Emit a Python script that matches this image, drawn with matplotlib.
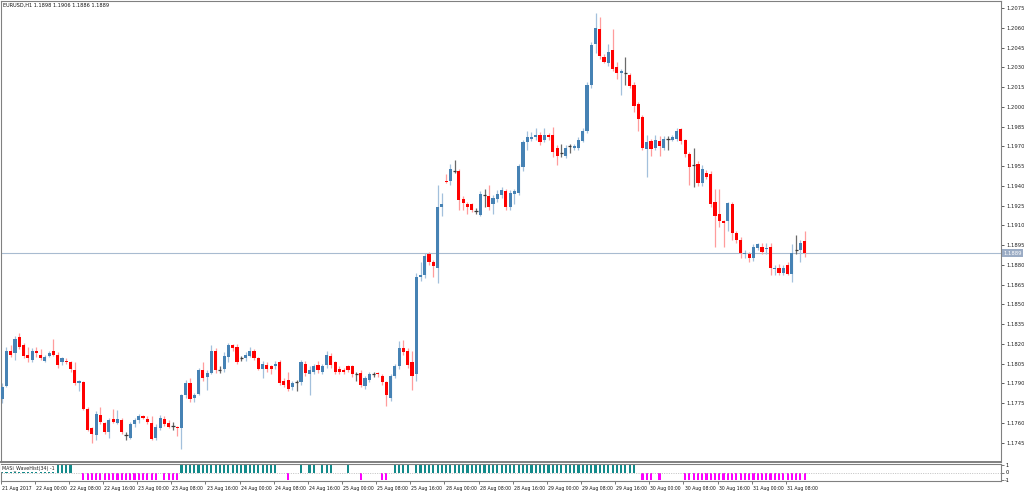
import numpy as np
import matplotlib
matplotlib.use('Agg')
import matplotlib.pyplot as plt
import matplotlib.transforms as mtransforms

header_text = "EURUSD,H1 1.1898 1.1906 1.1886 1.1889"
indicator_name = "MASi_WaveHist(34) -1"
current_price = 1.1889

opens = [
    1.1778, 1.1788, 1.1815, 1.1813, 1.1825, 1.1819, 1.1812, 1.1808, 1.1815, 1.1812,
    1.1807, 1.1811, 1.1815, 1.1812, 1.1806, 1.1807, 1.1806, 1.1800, 1.1790, 1.1791,
    1.1771, 1.1756, 1.1751, 1.1766, 1.1760, 1.1753, 1.1763, 1.1760, 1.1762, 1.1751,
    1.1749, 1.1759, 1.1762, 1.1765, 1.1763, 1.1760, 1.1749, 1.1756, 1.1763, 1.1760,
    1.1758, 1.1757, 1.1756, 1.1781, 1.1790, 1.1779, 1.1782, 1.1800, 1.1795, 1.1798,
    1.1815, 1.1800, 1.1801, 1.1810, 1.1819, 1.1818, 1.1809, 1.1809, 1.1811, 1.1815,
    1.1809, 1.1801, 1.1804, 1.1803, 1.1803, 1.1806, 1.1792, 1.1793, 1.1787, 1.1791,
    1.1791, 1.1805, 1.1797, 1.1799, 1.1804, 1.1799, 1.1804, 1.1811, 1.1806, 1.1801,
    1.1800, 1.1803, 1.1803, 1.1797, 1.1798, 1.1788, 1.1793, 1.1797, 1.1798, 1.1796,
    1.1791, 1.1779, 1.1796, 1.1803, 1.1817, 1.1815, 1.1806, 1.1797, 1.1871, 1.1872,
    1.1888, 1.1882, 1.1878, 1.1924, 1.1944, 1.1944, 1.1951, 1.1951, 1.1930, 1.1926,
    1.1926, 1.1921, 1.1918, 1.1933, 1.1932, 1.1926, 1.1930, 1.1933, 1.1936, 1.1924,
    1.1934, 1.1935, 1.1954, 1.1973, 1.1976, 1.1977, 1.1979, 1.1975, 1.1979, 1.1979,
    1.1969, 1.1965, 1.1963, 1.1970, 1.1969, 1.1969, 1.1974, 1.1982, 1.2017, 1.2048,
    1.2059, 1.2038, 1.2033, 1.2043, 1.2030, 1.2026, 1.2026, 1.2024, 1.2017, 1.2002,
    1.1992, 1.1968, 1.1974, 1.1969, 1.1974, 1.1969, 1.1976, 1.1975, 1.1976, 1.1983,
    1.1975, 1.1964, 1.1956, 1.1957, 1.1942, 1.1950, 1.1949, 1.1928, 1.1919, 1.1913,
    1.1913, 1.1926, 1.1904, 1.1899, 1.1888, 1.1888, 1.1885, 1.1893, 1.1894, 1.1892,
    1.1894, 1.1877, 1.1878, 1.1874, 1.1880, 1.1873, 1.1891, 1.1891, 1.1898,
]
closes = [
    1.1787, 1.1815, 1.1812, 1.1824, 1.1818, 1.1811, 1.1809, 1.1815, 1.1813, 1.1809,
    1.1810, 1.1813, 1.1812, 1.1804, 1.1809, 1.1806, 1.1801, 1.1790, 1.1792, 1.1771,
    1.1755, 1.1752, 1.1767, 1.1761, 1.1753, 1.1762, 1.1761, 1.1763, 1.1753, 1.1751,
    1.1759, 1.1762, 1.1765, 1.1764, 1.1761, 1.1748, 1.1757, 1.1764, 1.1759, 1.1757,
    1.1758, 1.1756, 1.1781, 1.1790, 1.1778, 1.1781, 1.1800, 1.1794, 1.1798, 1.1815,
    1.1800, 1.1800, 1.1811, 1.1819, 1.1817, 1.1806, 1.1809, 1.1812, 1.1815, 1.1809,
    1.1801, 1.1805, 1.1801, 1.1801, 1.1805, 1.1790, 1.1789, 1.1786, 1.1790, 1.1791,
    1.1806, 1.1798, 1.1800, 1.1803, 1.1800, 1.1803, 1.1812, 1.1804, 1.1799, 1.1799,
    1.1799, 1.1800, 1.1797, 1.1797, 1.1789, 1.1794, 1.1797, 1.1797, 1.1797, 1.1791,
    1.1781, 1.1796, 1.1803, 1.1817, 1.1814, 1.1804, 1.1796, 1.1871, 1.1872, 1.1887,
    1.1882, 1.1879, 1.1924, 1.1926, 1.1943, 1.1953, 1.1951, 1.1929, 1.1927, 1.1924,
    1.1922, 1.1921, 1.1934, 1.1933, 1.1924, 1.1931, 1.1934, 1.1937, 1.1924, 1.1935,
    1.1936, 1.1955, 1.1973, 1.1977, 1.1977, 1.1979, 1.1973, 1.1979, 1.1977, 1.1966,
    1.1963, 1.1965, 1.1969, 1.1970, 1.1970, 1.1975, 1.1982, 1.2017, 1.2047, 1.2060,
    1.2039, 1.2034, 1.2042, 1.2029, 1.2026, 1.2027, 1.2026, 1.2016, 1.2001, 1.1991,
    1.1969, 1.1973, 1.1968, 1.1975, 1.1970, 1.1976, 1.1976, 1.1977, 1.1982, 1.1974,
    1.1964, 1.1954, 1.1956, 1.1942, 1.1953, 1.1947, 1.1926, 1.1917, 1.1913, 1.1912,
    1.1927, 1.1904, 1.1899, 1.1889, 1.1889, 1.1885, 1.1894, 1.1896, 1.1890, 1.1893,
    1.1878, 1.1878, 1.1874, 1.1878, 1.1873, 1.1889, 1.1891, 1.1897, 1.1889,
]
highs = [
    1.1790, 1.1818, 1.1819, 1.1826, 1.1828, 1.1821, 1.1818, 1.1817, 1.1818, 1.1816,
    1.1812, 1.1815, 1.1824, 1.1814, 1.1810, 1.1809, 1.1807, 1.1806, 1.1793, 1.1792,
    1.1772, 1.1757, 1.1769, 1.1772, 1.1761, 1.1764, 1.1771, 1.1770, 1.1764, 1.1753,
    1.1761, 1.1764, 1.1767, 1.1766, 1.1765, 1.1765, 1.1759, 1.1766, 1.1765, 1.1762,
    1.1761, 1.1758, 1.1782, 1.1793, 1.1794, 1.1783, 1.1802, 1.1806, 1.1800, 1.1819,
    1.1817, 1.1803, 1.1814, 1.1821, 1.1820, 1.1820, 1.1811, 1.1814, 1.1818, 1.1816,
    1.1810, 1.1807, 1.1806, 1.1804, 1.1807, 1.1808, 1.1794, 1.1799, 1.1792, 1.1793,
    1.1808, 1.1807, 1.1803, 1.1805, 1.1807, 1.1805, 1.1815, 1.1813, 1.1807, 1.1803,
    1.1802, 1.1804, 1.1804, 1.1799, 1.1800, 1.1796, 1.1799, 1.1799, 1.1799, 1.1797,
    1.1792, 1.1797, 1.1805, 1.1822, 1.1823, 1.1817, 1.1815, 1.1874, 1.1882, 1.1889,
    1.1890, 1.1884, 1.1941, 1.1935, 1.1949, 1.1957, 1.1960, 1.1953, 1.1932, 1.1928,
    1.1927, 1.1923, 1.1936, 1.1938, 1.1941, 1.1933, 1.1937, 1.1939, 1.1938, 1.1937,
    1.1938, 1.1957, 1.1975, 1.1982, 1.1981, 1.1984, 1.1981, 1.1984, 1.1980, 1.1985,
    1.1971, 1.1972, 1.1971, 1.1972, 1.1972, 1.1977, 1.1984, 1.2019, 1.2049, 1.2071,
    1.2068, 1.2040, 1.2048, 1.2059, 1.2034, 1.2029, 1.2038, 1.2026, 1.2019, 1.2004,
    1.1994, 1.1979, 1.1976, 1.1979, 1.1978, 1.1978, 1.1978, 1.1979, 1.1984, 1.1984,
    1.1976, 1.1966, 1.1969, 1.1959, 1.1956, 1.1952, 1.1951, 1.1938, 1.1938, 1.1914,
    1.1928, 1.1928, 1.1906, 1.1901, 1.1891, 1.1890, 1.1896, 1.1897, 1.1897, 1.1897,
    1.1897, 1.1880, 1.1881, 1.1880, 1.1882, 1.1896, 1.1903, 1.1899, 1.1906,
]
lows = [
    1.1775, 1.1787, 1.1810, 1.1808, 1.1816, 1.1809, 1.1806, 1.1806, 1.1810, 1.1808,
    1.1806, 1.1810, 1.1811, 1.1802, 1.1804, 1.1805, 1.1799, 1.1789, 1.1784, 1.1770,
    1.1754, 1.1745, 1.1747, 1.1759, 1.1752, 1.1749, 1.1760, 1.1759, 1.1752, 1.1747,
    1.1748, 1.1757, 1.1760, 1.1763, 1.1759, 1.1747, 1.1747, 1.1755, 1.1758, 1.1756,
    1.1755, 1.1750, 1.1740, 1.1779, 1.1776, 1.1776, 1.1781, 1.1792, 1.1785, 1.1797,
    1.1798, 1.1798, 1.1799, 1.1806, 1.1815, 1.1805, 1.1807, 1.1807, 1.1810, 1.1808,
    1.1800, 1.1794, 1.1799, 1.1797, 1.1801, 1.1789, 1.1787, 1.1784, 1.1785, 1.1784,
    1.1789, 1.1796, 1.1781, 1.1797, 1.1798, 1.1797, 1.1802, 1.1802, 1.1797, 1.1797,
    1.1797, 1.1799, 1.1795, 1.1792, 1.1787, 1.1786, 1.1791, 1.1795, 1.1795, 1.1789,
    1.1773, 1.1777, 1.1794, 1.1801, 1.1812, 1.1802, 1.1785, 1.1792, 1.1868, 1.1870,
    1.1880, 1.1871, 1.1866, 1.1917, 1.1942, 1.1941, 1.1950, 1.1922, 1.1922, 1.1919,
    1.1920, 1.1919, 1.1917, 1.1924, 1.1922, 1.1919, 1.1928, 1.1931, 1.1922, 1.1922,
    1.1926, 1.1933, 1.1951, 1.1967, 1.1974, 1.1975, 1.1971, 1.1973, 1.1975, 1.1962,
    1.1956, 1.1962, 1.1961, 1.1965, 1.1967, 1.1967, 1.1973, 1.1980, 1.2014, 1.2041,
    1.2036, 1.2033, 1.2031, 1.2027, 1.2021, 1.2009, 1.2017, 1.2014, 1.1996, 1.1982,
    1.1967, 1.1947, 1.1963, 1.1967, 1.1963, 1.1967, 1.1967, 1.1974, 1.1974, 1.1972,
    1.1962, 1.1941, 1.1939, 1.1940, 1.1940, 1.1945, 1.1924, 1.1894, 1.1909, 1.1894,
    1.1906, 1.1899, 1.1897, 1.1885, 1.1885, 1.1882, 1.1883, 1.1891, 1.1888, 1.1888,
    1.1872, 1.1872, 1.1872, 1.1872, 1.1872, 1.1867, 1.1888, 1.1882, 1.1886,
]
wave_hist = [
    1, 1, 1, 1, 1, 1, 1, 1, 1, 1, 1, 1, 1, 1, 1, 1, 1, 0, 0, -1,
    -1, -1, -1, -1, -1, -1, -1, -1, -1, -1, -1, -1, -1, -1, -1, -1, -1, 0, -1, -1,
    -1, -1, 1, 1, 1, 1, 1, 1, 1, 1, 1, 1, 1, 1, 1, 1, 1, 1, 1, 1,
    1, 1, 1, 1, 1, 0, 0, -1, 0, 0, 1, 0, 1, 1, 0, 1, 1, 1, 0, 0,
    0, 1, 0, 0, -1, 0, 0, 0, 0, -1, -1, 0, 1, 1, 1, 1, 0, 1, 1, 1,
    1, 1, 1, 1, 1, 1, 1, 1, 1, 1, 1, 1, 1, 1, 1, 1, 1, 1, 1, 1,
    1, 1, 1, 1, 1, 1, 1, 1, 1, 1, 1, 1, 1, 1, 1, 1, 1, 1, 1, 1,
    1, 1, 1, 1, 1, 1, 1, 1, 1, 0, -1, -1, -1, 0, -1, 0, 0, 0, 0, 0,
    -1, -1, -1, -1, -1, -1, -1, -1, -1, -1, -1, -1, -1, -1, -1, -1, -1, -1, -1, -1,
    -1, -1, -1, -1, -1, -1, -1, -1, -1,
]
time_labels = [
    "21 Aug 2017", "22 Aug 00:00", "22 Aug 08:00", "22 Aug 16:00", "23 Aug 00:00",
    "23 Aug 08:00", "23 Aug 16:00", "24 Aug 00:00", "24 Aug 08:00", "24 Aug 16:00",
    "25 Aug 00:00", "25 Aug 08:00", "25 Aug 16:00", "28 Aug 00:00", "28 Aug 08:00",
    "28 Aug 16:00", "29 Aug 00:00", "29 Aug 08:00", "29 Aug 16:00", "30 Aug 00:00",
    "30 Aug 08:00", "30 Aug 16:00", "31 Aug 00:00", "31 Aug 08:00",
]
time_label_bars = [0, 8, 16, 24, 32, 40, 48, 56, 64, 72, 80, 88, 96, 104, 112,
                   120, 128, 136, 144, 152, 160, 168, 176, 184]
price_ticks = [1.1745, 1.1760, 1.1775, 1.1790, 1.1805, 1.1820, 1.1835, 1.1850,
               1.1865, 1.1880, 1.1895, 1.1910, 1.1925, 1.1940, 1.1955, 1.1970,
               1.1985, 1.2000, 1.2015, 1.2030, 1.2045, 1.2060, 1.2075]

W, H = 1024, 492
fig = plt.figure(figsize=(W / 100, H / 100), dpi=100)
fig.patch.set_facecolor('white')
ax = fig.add_axes([0.5 / W, (H - 462) / H, 1000.5 / W, 461 / H])
axi = fig.add_axes([0.5 / W, (H - 481) / H, 1000.5 / W, 17 / H], sharex=ax)

o = np.array(opens); c = np.array(closes); hi = np.array(highs); lo = np.array(lows)
idx = np.arange(len(o))
doji = np.isclose(o, c)
up = (c > o) & ~doji
dn = (c < o) & ~doji

UP_C, DN_C, DOJI_C = '#4682b4', '#ff0000', '#3a3a3a'
ax.vlines(idx[up], lo[up], hi[up], color='#a3c0dc', lw=0.9, zorder=2)
ax.vlines(idx[dn], lo[dn], hi[dn], color='#ff9c9c', lw=0.9, zorder=2)
ax.vlines(idx[doji], lo[doji], hi[doji], color='#6a6a6a', lw=0.9, zorder=2)
minh = 0.00009
ax.bar(idx[up], np.maximum(c[up] - o[up], minh), bottom=o[up], width=0.74,
       color=UP_C, linewidth=0, zorder=3)
ax.bar(idx[dn], np.maximum(o[dn] - c[dn], minh), bottom=c[dn], width=0.74,
       color=DN_C, linewidth=0, zorder=3)
ax.hlines(c[doji], idx[doji] - 0.37, idx[doji] + 0.37, color=DOJI_C, lw=0.9, zorder=3)

ax.set_xlim(-0.4, 234.0)
ax.set_ylim(1.17304, 1.20804)
ax.axhline(current_price, color='#a8bbd0', lw=0.8, zorder=1)

ax.yaxis.tick_right()
ax.set_yticks(price_ticks)
ax.set_yticklabels([f"{p:.4f}" for p in price_ticks])
ax.tick_params(axis='y', labelsize=3.8, length=2.5, width=0.6, color='#444444',
               labelcolor='#222222', pad=1.2)
ax.tick_params(axis='x', bottom=False, labelbottom=False)
for s in ax.spines.values():
    s.set_color('#808080'); s.set_linewidth(0.8)
ax.spines['bottom'].set_linewidth(1.4)

ax.text(1.0, current_price, f"{current_price:.4f}",
        transform=mtransforms.blended_transform_factory(ax.transAxes, ax.transData)
        + mtransforms.ScaledTranslation(2.5 / 100, 0, fig.dpi_scale_trans),
        ha='left', va='center', fontsize=3.8, color='white', zorder=5,
        bbox=dict(facecolor='#9aabc4', edgecolor='none', pad=0.8), clip_on=False)

fig.text(3 / W, 1 - 5 / H, header_text, fontsize=3.6, va='center', ha='left', color='#111111')

# Indicator panel
wv = np.array(wave_hist)
pos = wv > 0
neg = wv < 0
axi.bar(idx[pos], wv[pos], width=0.5, color='#138a8a', linewidth=0)
axi.bar(idx[neg], wv[neg], width=0.5, color='#ff00ff', linewidth=0)
axi.axhline(0, color='#b8b8b8', lw=0.6, ls=(0, (1.2, 1.6)))
axi.set_ylim(-1.15, 1.15)
axi.yaxis.tick_right()
axi.set_yticks([1, 0, -1])
axi.set_yticklabels(['1', '0', '-1'])
axi.tick_params(axis='y', labelsize=3.5, length=2.0, width=0.5, pad=1, color='#444444')
for s in axi.spines.values():
    s.set_color('#808080'); s.set_linewidth(0.8)

axi.set_xticks(np.array(time_label_bars) - 0.4)
axi.set_xticklabels(time_labels)
axi.tick_params(axis='x', labelsize=3.35, length=2.5, width=0.5, pad=1.3,
                color='#444444', labelcolor='#111111')
off = mtransforms.ScaledTranslation(1.2 / 100, 0, fig.dpi_scale_trans)
for lbl in axi.get_xticklabels():
    lbl.set_horizontalalignment('left')
    lbl.set_transform(lbl.get_transform() + off)

fig.text(2 / W, 1 - 468.5 / H, indicator_name, fontsize=3.4, va='center', ha='left',
         color='#222222', zorder=10,
         bbox=dict(facecolor='white', edgecolor='none', pad=0.4))

fig.savefig('out.png', dpi=100, facecolor='white')
